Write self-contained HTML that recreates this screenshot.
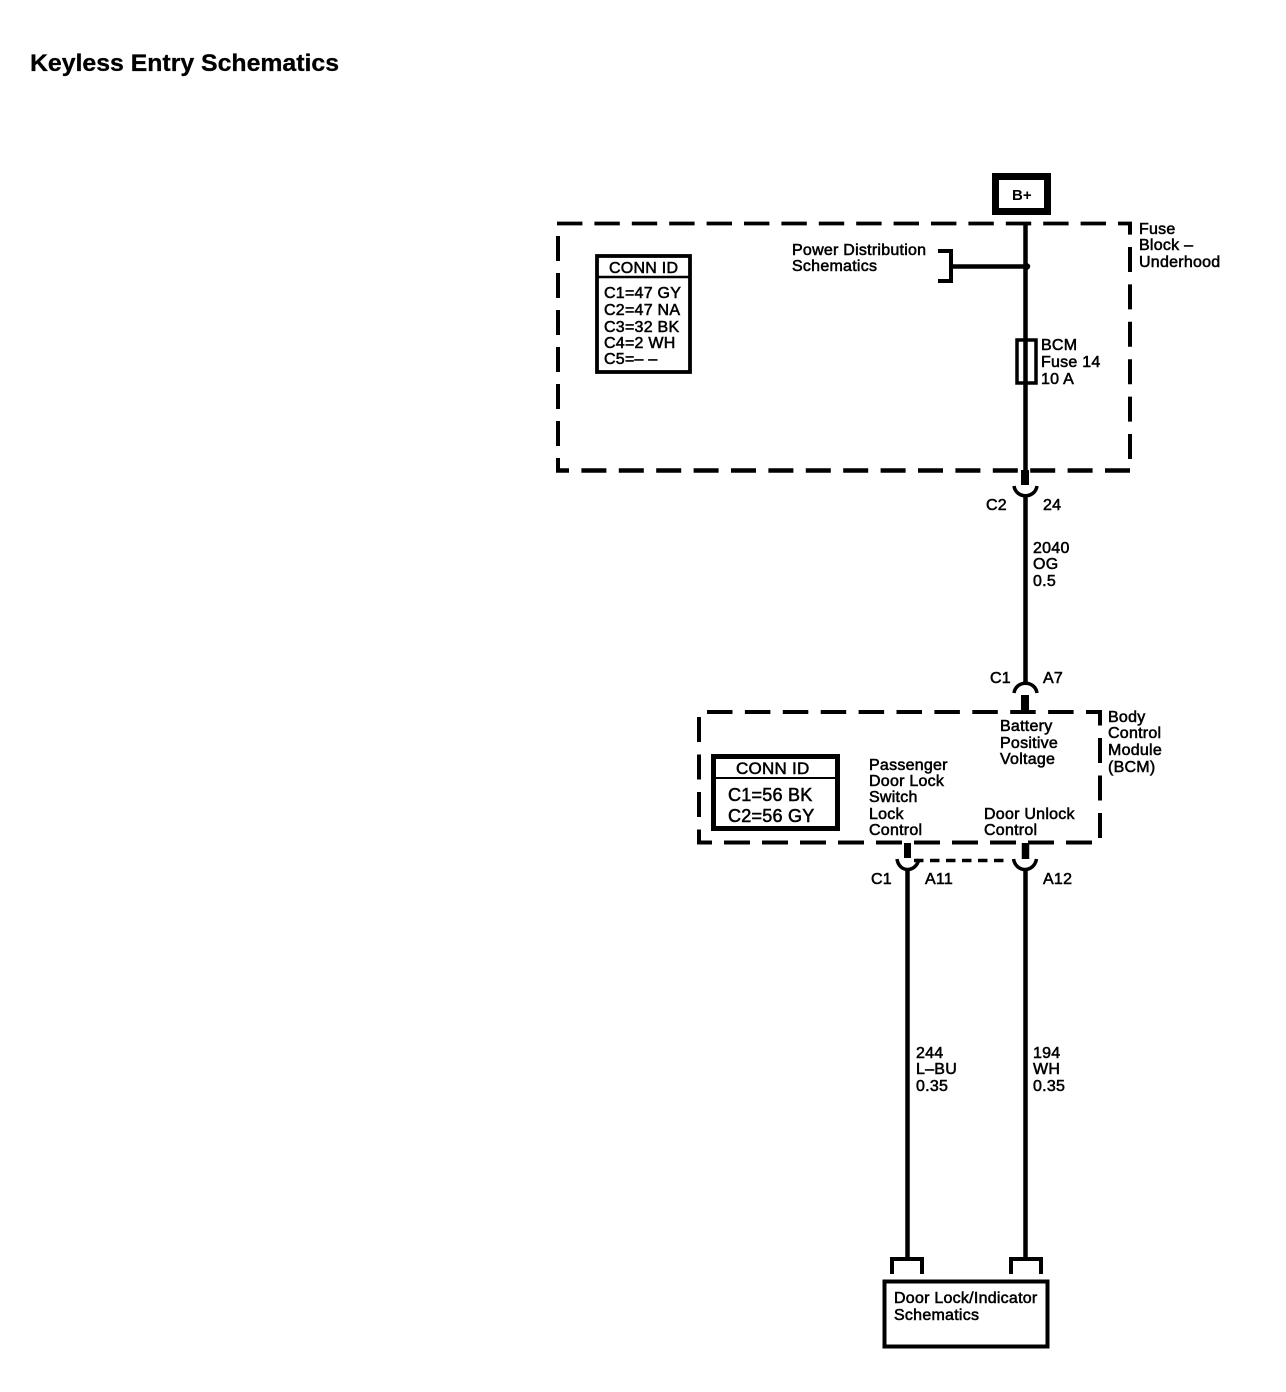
<!DOCTYPE html>
<html><head><meta charset="utf-8"><style>
html,body{margin:0;padding:0;background:#fff}
svg{display:block}
text{font-family:"Liberation Sans",sans-serif;font-size:16px;fill:#000;stroke:#000;stroke-width:.55;letter-spacing:.25px}
</style></head><body>
<svg width="1286" height="1392" viewBox="0 0 1286 1392" xmlns="http://www.w3.org/2000/svg">
<rect width="1286" height="1392" fill="#fff"/>
<text x="30" y="71" style="font-size:24px;font-weight:bold;stroke-width:.3;letter-spacing:0" textLength="309" lengthAdjust="spacingAndGlyphs">Keyless Entry Schematics</text>

<g fill="none" stroke="#000">
<rect x="995.500" y="176.500" width="52" height="35" stroke-width="7"/>
<!-- fuse block dashed outline -->
<path d="M557 223.500H1132" stroke-width="3.800" stroke-dasharray="25.400 12"/>
<path d="M1130 459V222" stroke-width="4" stroke-dasharray="25 12.400"/>
<path d="M558 236V472" stroke-width="4" stroke-dasharray="25 12"/>
<path d="M1130 470.500H556" stroke-width="4.500" stroke-dasharray="25 12.400"/>
<!-- BCM dashed outline -->
<path d="M707 712H1102" stroke-width="4" stroke-dasharray="25.500 12.400"/>
<path d="M1100 838V710" stroke-width="4" stroke-dasharray="25 12.500"/>
<path d="M699 717V844.500" stroke-width="4" stroke-dasharray="25 12.500"/>
<path d="M1092 842.500H697" stroke-width="4" stroke-dasharray="26 12"/>
<!-- wires -->
<path d="M1025.500 224V470M1025.500 497V684M907.500 870V1258M1025.500 870V1258" stroke-width="4.500"/>
<path d="M950 266.500H1027" stroke-width="4.500"/>
<path d="M938 251H951V281H938" stroke-width="4"/>
<rect x="1017" y="340" width="19" height="43" stroke-width="3.500"/>
<path d="M1025 470V485M1025 695V712" stroke-width="8"/>
<path d="M907.500 843V858" stroke-width="7"/><path d="M1025.500 843V859" stroke-width="7.500"/>
<path d="M1014 486C1016 499 1035 499 1037 486" stroke-width="3.500"/>
<path d="M1014 693C1016 680 1035 680 1037 693" stroke-width="3.500"/>
<path d="M897 859C899 873 916 873 919 859" stroke-width="3.500"/>
<path d="M1013.500 859C1016 873 1034 873 1036.500 859" stroke-width="3.500"/>
<path d="M914 860.500H1010" stroke-width="3.500" stroke-dasharray="9.500 6.500"/>
<path d="M892 1274V1259H922V1274M1011 1274V1259H1041V1274" stroke-width="4"/>
<rect x="884.500" y="1281.500" width="163" height="65" stroke-width="4"/>
<rect x="597" y="256" width="93" height="116" stroke-width="3.800"/>
<path d="M597 277H690" stroke-width="2.500"/>
<rect x="713.500" y="756.500" width="124" height="72" stroke-width="5"/>
<path d="M713 778H838" stroke-width="2"/>
</g>
<circle cx="1027" cy="266.500" r="3.200"/>

<text x="1012" y="200" style="font-size:15px;font-weight:bold;stroke-width:0;letter-spacing:0">B+</text>
<text x="1139" y="234">Fuse</text><text x="1139" y="250">Block –</text><text x="1139" y="267">Underhood</text>
<text x="792" y="255">Power Distribution</text><text x="792" y="271">Schematics</text>
<text x="609" y="273">CONN ID</text>
<text x="604" y="298">C1=47 GY</text><text x="604" y="315">C2=47 NA</text><text x="604" y="332">C3=32 BK</text><text x="604" y="348">C4=2 WH</text><text x="604" y="364">C5=– –</text>
<text x="1041" y="350">BCM</text><text x="1041" y="367">Fuse 14</text><text x="1041" y="384">10 A</text>
<text x="986" y="510">C2</text><text x="1043" y="510">24</text>
<text x="1033" y="553">2040</text><text x="1033" y="569">OG</text><text x="1033" y="586">0.5</text>
<text x="990" y="683">C1</text><text x="1043" y="683">A7</text>
<text x="1000" y="731">Battery</text><text x="1000" y="748">Positive</text><text x="1000" y="764">Voltage</text>
<text x="1108" y="722">Body</text><text x="1108" y="738">Control</text><text x="1108" y="755">Module</text><text x="1108" y="772">(BCM)</text>
<text x="736" y="774" style="font-size:17px">CONN ID</text>
<text x="728" y="801" style="font-size:18px">C1=56 BK</text><text x="728" y="822" style="font-size:18px">C2=56 GY</text>
<text x="869" y="770">Passenger</text><text x="869" y="786">Door Lock</text><text x="869" y="802">Switch</text><text x="869" y="819">Lock</text><text x="869" y="835">Control</text>
<text x="984" y="819">Door Unlock</text><text x="984" y="835">Control</text>
<text x="871" y="884">C1</text><text x="925" y="884">A11</text><text x="1043" y="884">A12</text>
<text x="916" y="1058">244</text><text x="916" y="1074">L–BU</text><text x="916" y="1091">0.35</text>
<text x="1033" y="1058">194</text><text x="1033" y="1074">WH</text><text x="1033" y="1091">0.35</text>
<text x="894" y="1303">Door Lock/Indicator</text><text x="894" y="1320">Schematics</text>
</svg>
</body></html>
